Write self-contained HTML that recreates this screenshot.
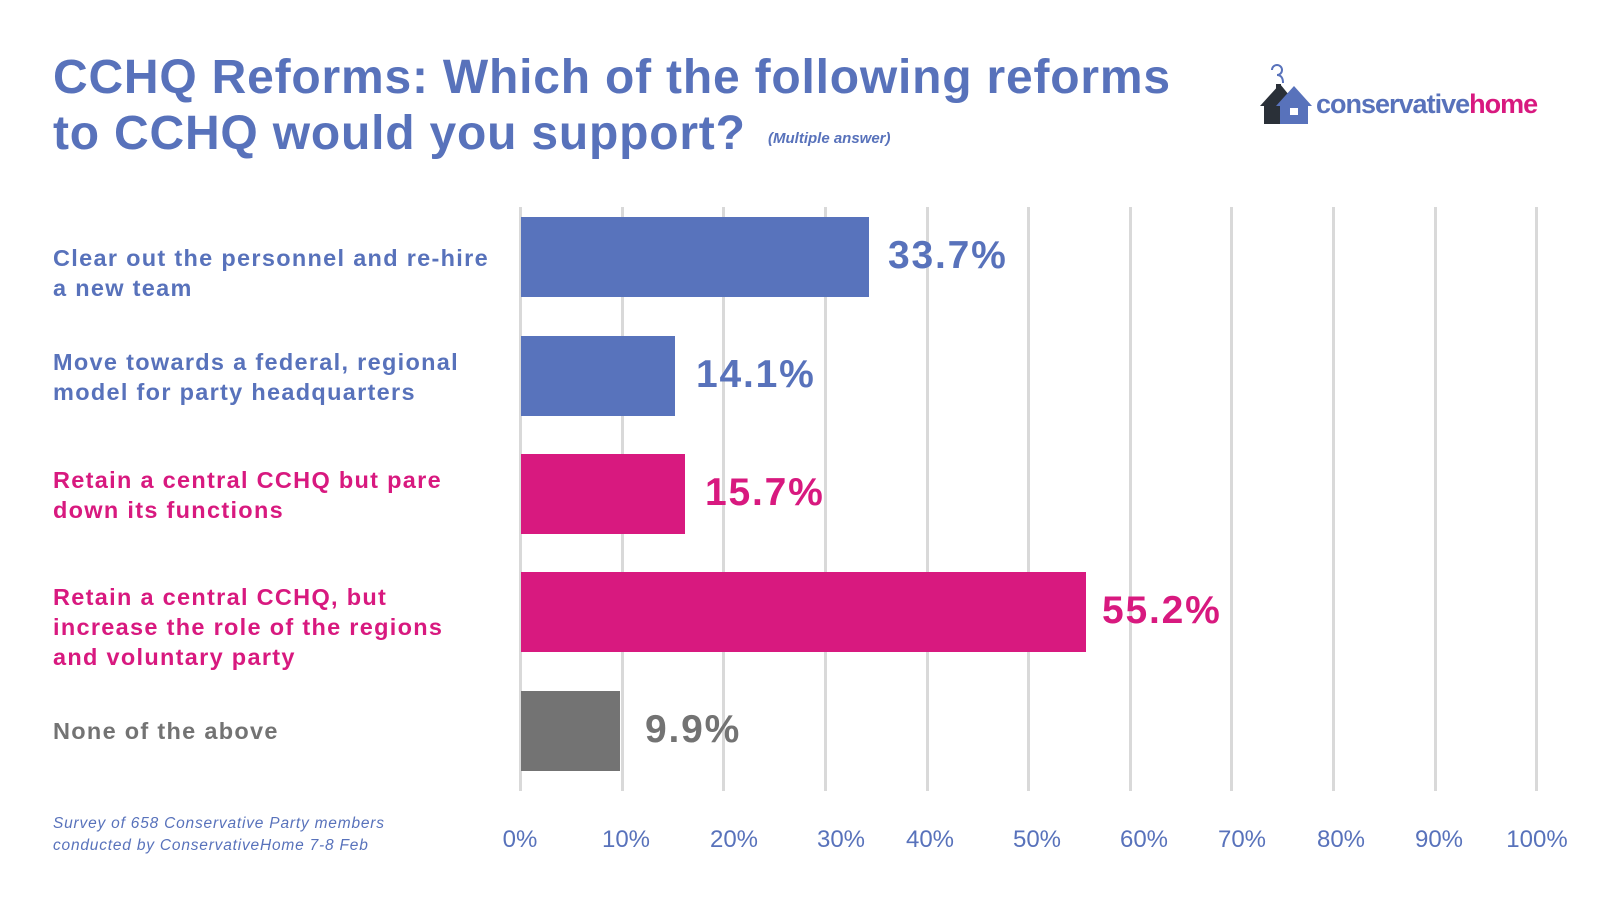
<!DOCTYPE html>
<html><head><meta charset="utf-8"><style>
body{margin:0;width:1600px;height:900px;background:#fff;font-family:"Liberation Sans",sans-serif;position:relative;overflow:hidden}
.a{position:absolute;white-space:nowrap}
.t{left:53px;font-size:48px;font-weight:bold;color:#5872bb;line-height:56px;letter-spacing:0.8px}
.c{left:53px;font-size:23.5px;font-weight:bold;line-height:30px;letter-spacing:1.3px}
.g{position:absolute;top:207px;height:584px;width:3px;background:#d9d9d9}
.b{position:absolute;left:521px;height:80px}
.v{font-size:39px;font-weight:bold;letter-spacing:1.8px}
.x{font-size:24px;color:#5872bb;top:826px;transform:translateX(-50%)}
</style></head><body>
<div class="a t" style="top:50px">CCHQ Reforms: Which of the following reforms</div>
<div class="a t" style="top:106px">to CCHQ would you support?</div>
<div class="a" style="left:768px;top:130px;font-size:15px;font-weight:bold;font-style:italic;color:#5872bb">(Multiple answer)</div>
<svg class="a" style="left:1258px;top:62px" width="60" height="62" viewBox="0 0 60 62"><path d="M14 8 a5 5 0 1 1 5 5 c4 0 6 3 6 8" stroke="#5872bb" stroke-width="2" fill="none"/><polygon points="2,44 22,22 40,44" fill="#2a3038"/><rect x="6" y="42" width="16" height="20" fill="#2a3038"/><rect x="18" y="22" width="5" height="10" fill="#2a3038"/><polygon points="18,44 36,24 54,44" fill="#5872bb"/><rect x="22" y="42" width="28" height="20" fill="#5872bb"/><rect x="32" y="46" width="8" height="7" fill="#fff"/></svg>
<div class="a" style="left:1316px;top:89px;font-size:27px;font-weight:bold;letter-spacing:-1px;color:#5872bb">conservative<span style="color:#d8197f">home</span></div>
<div class="g" style="left:519px"></div><div class="g" style="left:621px"></div><div class="g" style="left:722px"></div><div class="g" style="left:824px"></div><div class="g" style="left:926px"></div><div class="g" style="left:1027px"></div><div class="g" style="left:1129px"></div><div class="g" style="left:1230px"></div><div class="g" style="left:1332px"></div><div class="g" style="left:1434px"></div><div class="g" style="left:1535px"></div>
<div class="b" style="top:217px;width:348px;background:#5873bc"></div>
<div class="b" style="top:336px;width:154px;background:#5873bc"></div>
<div class="b" style="top:454px;width:164px;background:#d8197f"></div>
<div class="b" style="top:572px;width:565px;background:#d8197f"></div>
<div class="b" style="top:691px;width:99px;background:#737373"></div>
<div class="a v" style="left:888px;top:234px;color:#5872bb">33.7%</div>
<div class="a v" style="left:696px;top:353px;color:#5872bb">14.1%</div>
<div class="a v" style="left:705px;top:471px;color:#d8197f">15.7%</div>
<div class="a v" style="left:1102px;top:589px;color:#d8197f">55.2%</div>
<div class="a v" style="left:645px;top:708px;color:#737373">9.9%</div>
<div class="a c" style="top:243px;color:#5872bb">Clear out the personnel and re-hire<br>a new team</div>
<div class="a c" style="top:347px;color:#5872bb">Move towards a federal, regional<br>model for party headquarters</div>
<div class="a c" style="top:465px;color:#d8197f">Retain a central CCHQ but pare<br>down its functions</div>
<div class="a c" style="top:582px;color:#d8197f">Retain a central CCHQ, but<br>increase the role of the regions<br>and voluntary party</div>
<div class="a c" style="top:716px;color:#737373">None of the above</div>
<div class="a" style="left:53px;top:813px;font-size:15.5px;font-style:italic;color:#5872bb;line-height:22px;letter-spacing:0.8px">Survey of 658 Conservative Party members<br>conducted by ConservativeHome 7-8 Feb</div>
<div class="a x" style="left:520px">0%</div><div class="a x" style="left:626px">10%</div><div class="a x" style="left:734px">20%</div><div class="a x" style="left:841px">30%</div><div class="a x" style="left:930px">40%</div><div class="a x" style="left:1037px">50%</div><div class="a x" style="left:1144px">60%</div><div class="a x" style="left:1242px">70%</div><div class="a x" style="left:1341px">80%</div><div class="a x" style="left:1439px">90%</div><div class="a x" style="left:1537px">100%</div>
</body></html>
